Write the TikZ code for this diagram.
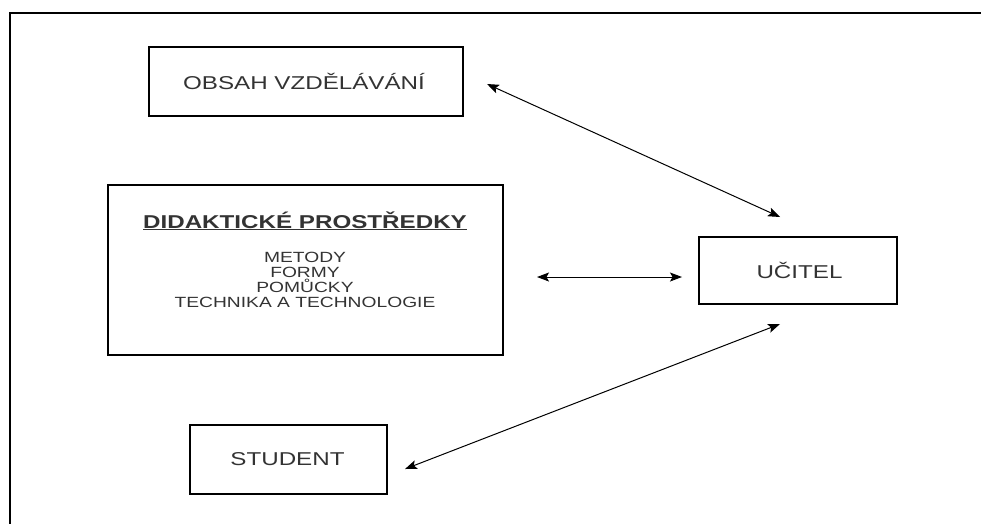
\documentclass[tikz,border=0pt]{standalone}
\usepackage{fontspec}
\setmainfont{Liberation Sans}[FakeStretch=1.3]
\usetikzlibrary{arrows.meta}
\definecolor{txt}{HTML}{333333}
\begin{document}
\begin{tikzpicture}[x=1pt,y=-1pt,
  box/.style={draw=black,line width=1.2pt,inner sep=0pt},
  lbl/.style={text=txt,font=\fontsize{18.6}{20}\selectfont,inner sep=0pt},
  item/.style={text=txt,font=\fontsize{14.8}{15}\selectfont,inner sep=0pt,anchor=base},
  link/.style={line width=1pt,{Stealth[length=12pt,width=9pt,inset=2.5pt]}-{Stealth[length=12pt,width=9pt,inset=2.5pt]}},
  frame/.style={line width=2pt,line cap=rect}]
\useasboundingbox (0,0) rectangle (981,523);
% frame
\coordinate (ftr) at (981,13);
\coordinate (ftl) at (10,13);
\coordinate (fbl) at (10,523);
\draw[frame] (ftr) -- (ftl) -- (fbl);
% boxes
\node[box,minimum width=314pt,minimum height=69pt] (obsah) at (306,81.5) {};
\node[lbl] (obsahT) at (304,81.5) {OBSAH VZDĚLÁVÁNÍ};
\node[box,minimum width=395pt,minimum height=170pt] (did) at (305.5,270) {};
\node[lbl,anchor=base,font=\fontsize{18.6}{20}\selectfont\bfseries] (didT) at (305,228) {\underline{DIDAKTICKÉ PROSTŘEDKY}};
\node[item] (m1) at (305,262) {METODY};
\node[item] (m2) at (305,277.3) {FORMY};
\node[item] (m3) at (305,292.6) {POMŮCKY};
\node[item] (m4) at (305,307.9) {TECHNIKA A TECHNOLOGIE};
\node[box,minimum width=198pt,minimum height=67pt] (ucitel) at (798,270.5) {};
\node[lbl] (ucitelT) at (799.5,270.5) {UČITEL};
\node[box,minimum width=197pt,minimum height=69pt] (student) at (288.5,459.5) {};
\node[lbl] (studentT) at (287.5,459.5) {STUDENT};
% connector ends
\coordinate (a1) at (487,84);
\coordinate (a2) at (780,217);
\coordinate (b1) at (537,277);
\coordinate (b2) at (682,277);
\coordinate (c1) at (405,469);
\coordinate (c2) at (780,324);
\draw[link] (a1) -- (a2);
\draw[link] (b1) -- (b2);
\draw[link] (c1) -- (c2);
\end{tikzpicture}
\end{document}
